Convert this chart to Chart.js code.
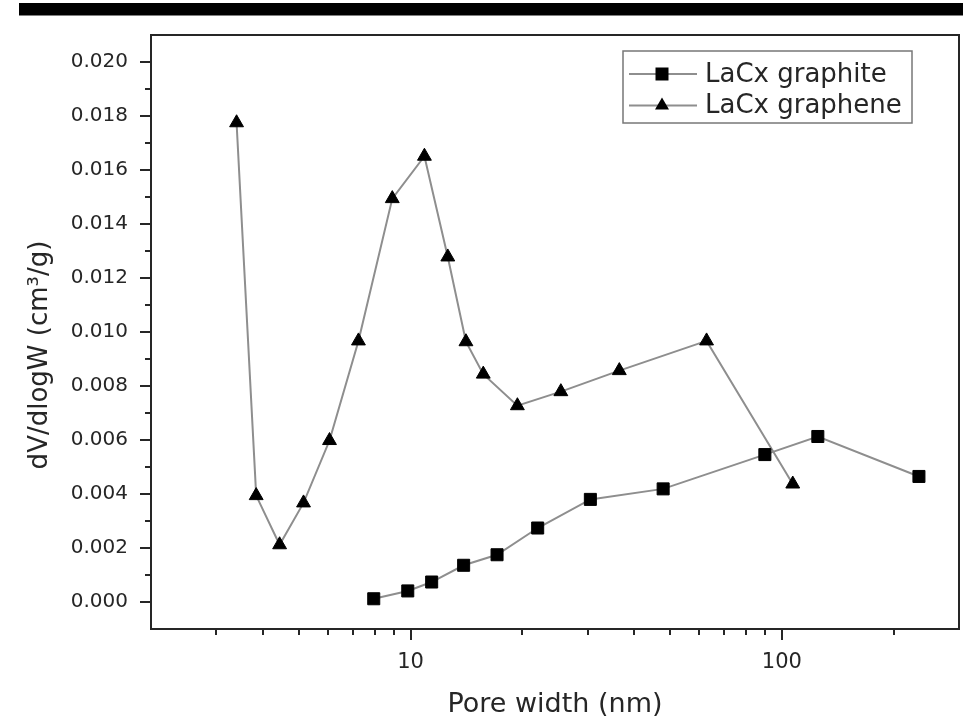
<!DOCTYPE html>
<html>
<head>
<meta charset="utf-8">
<script src="https://cdn.jsdelivr.net/npm/chart.js@4/dist/chart.umd.min.js"></script>
<style>
  html, body { margin: 0; padding: 0; background: #fff; }
  #wrap { position: relative; width: 963px; height: 725px; }
</style>
</head>
<body>
<div id="wrap"><canvas id="psd" width="963" height="725"></canvas></div>
<script>
// pore size distribution
const graphiteWidth = [7.96, 9.83, 11.4, 13.9, 17.1, 22.0, 30.5, 47.9, 90.0, 125, 234];
const graphiteDv    = [0.00012, 0.00041, 0.00074, 0.00136, 0.00175, 0.00274, 0.00380, 0.00419, 0.00546, 0.00613, 0.00465];

const grapheneWidth = [3.40, 3.84, 4.44, 5.15, 6.05, 7.24, 8.93, 10.9, 12.6, 14.1, 15.7, 19.4, 25.4, 36.5, 62.7, 107];
const grapheneDv    = [0.01775, 0.00394, 0.00212, 0.00367, 0.00598, 0.00967, 0.01494, 0.01651, 0.01278, 0.00964, 0.00844, 0.00727, 0.00779, 0.00857, 0.00967, 0.00437];

const seriesNames = ['LaCx graphite', 'LaCx graphene'];

// axis ticks
const xTickValues  = [10, 100];
const xMinorValues = [3, 4, 5, 6, 7, 8, 9, 20, 30, 40, 50, 60, 70, 80, 90, 200];
const yTickValues  = [0, 0.002, 0.004, 0.006, 0.008, 0.010, 0.012, 0.014, 0.016, 0.018, 0.020];
const yMinorValues = [0.001, 0.003, 0.005, 0.007, 0.009, 0.011, 0.013, 0.015, 0.017, 0.019];

const FONT = "'DejaVu Sans', sans-serif";
const INK = '#262626';
const LINE = '#8e8e8e';

function pairs(xs, ys) {
    return xs.map((x, i) => ({ x: x, y: ys[i] }));
}

function drawMarker(ctx, style, x, y) {
    ctx.fillStyle = '#000';
    ctx.beginPath();
    if (style === 'rect') {
        ctx.rect(x - 6.5, y - 6.5, 13, 13);
    } else {
        ctx.moveTo(x, y - 8);
        ctx.lineTo(x + 7, y + 4);
        ctx.lineTo(x - 7, y + 4);
        ctx.closePath();
    }
    ctx.fill();
}

// black strip across the top, frame, outward ticks, y title and the legend box
const decor = {
    id: 'decor',
    beforeDraw(chart) {
        const ctx = chart.ctx;
        ctx.save();
        ctx.fillStyle = '#000';
        ctx.fillRect(19, 3, 944, 12.5);
        ctx.restore();
    },
    afterDraw(chart) {
        const { ctx, chartArea: a, scales: { x, y } } = chart;
        ctx.save();
        ctx.strokeStyle = INK;
        ctx.lineWidth = 2;
        ctx.strokeRect(a.left, a.top, a.right - a.left, a.bottom - a.top);

        ctx.beginPath();
        xTickValues.forEach(v => {
            const px = Math.round(x.getPixelForValue(v));
            ctx.moveTo(px, a.bottom); ctx.lineTo(px, a.bottom + 11);
        });
        xMinorValues.forEach(v => {
            const px = Math.round(x.getPixelForValue(v));
            ctx.moveTo(px, a.bottom); ctx.lineTo(px, a.bottom + 6);
        });
        yTickValues.forEach(v => {
            const py = Math.round(y.getPixelForValue(v));
            ctx.moveTo(a.left, py); ctx.lineTo(a.left - 11, py);
        });
        yMinorValues.forEach(v => {
            const py = Math.round(y.getPixelForValue(v));
            ctx.moveTo(a.left, py); ctx.lineTo(a.left - 6, py);
        });
        ctx.stroke();

        // y axis title
        ctx.save();
        ctx.translate(40, 355);
        ctx.rotate(-Math.PI / 2);
        ctx.fillStyle = INK;
        ctx.font = '26px ' + FONT;
        ctx.textAlign = 'center';
        ctx.textBaseline = 'middle';
        ctx.fillText('dV/dlogW (cm³/g)', 0, 0);
        ctx.restore();

        // legend
        const bx = a.right - 336, by = a.top + 16;
        ctx.lineWidth = 1.5;
        ctx.strokeStyle = '#777';
        ctx.strokeRect(bx, by, 289, 72);
        const rows = [by + 23, by + 54.5];
        const styles = ['rect', 'triangle'];
        ctx.font = '26px ' + FONT;
        ctx.textAlign = 'left';
        ctx.textBaseline = 'middle';
        chart.data.datasets.forEach((ds, i) => {
            const ry = rows[i];
            ctx.strokeStyle = LINE;
            ctx.lineWidth = 2;
            ctx.beginPath();
            ctx.moveTo(bx + 6, ry); ctx.lineTo(bx + 74, ry);
            ctx.stroke();
            drawMarker(ctx, styles[i], bx + 39, ry);
            ctx.fillStyle = INK;
            ctx.fillText(ds.label, bx + 82, ry + 1);
        });
        ctx.restore();
    }
};

new Chart(document.getElementById('psd'), {
    type: 'line',
    data: {
        datasets: [
            {
                label: seriesNames[0],
                data: pairs(graphiteWidth, graphiteDv),
                borderColor: LINE,
                borderWidth: 2,
                pointStyle: 'rect',
                pointRadius: 8.5,
                pointBackgroundColor: '#000',
                pointBorderColor: '#000',
                pointBorderWidth: 1,
                tension: 0
            },
            {
                label: seriesNames[1],
                data: pairs(grapheneWidth, grapheneDv),
                borderColor: LINE,
                borderWidth: 2,
                pointStyle: 'triangle',
                pointRadius: 8,
                pointBackgroundColor: '#000',
                pointBorderColor: '#000',
                pointBorderWidth: 1,
                tension: 0
            }
        ]
    },
    options: {
        responsive: false,
        animation: false,
        devicePixelRatio: 1,
        layout: { autoPadding: false, padding: { top: 33, right: 4, left: 0, bottom: 0 } },
        plugins: {
            legend: { display: false },
            tooltip: { enabled: false }
        },
        scales: {
            x: {
                type: 'logarithmic',
                min: 2,
                max: 300,
                grid: { display: false, drawTicks: false },
                border: { display: false },
                afterBuildTicks: s => { s.ticks = xTickValues.map(v => ({ value: v })); },
                afterFit: s => { s.height = 96; },
                ticks: {
                    padding: 21,
                    autoSkip: false,
                    maxRotation: 0,
                    color: INK,
                    font: { family: FONT, size: 21 },
                    callback: v => String(v)
                },
                title: {
                    display: true,
                    text: 'Pore width (nm)',
                    color: INK,
                    font: { family: FONT, size: 27 },
                    padding: { top: 0, bottom: 4 }
                }
            },
            y: {
                min: -0.001,
                max: 0.021,
                grid: { display: false, drawTicks: false },
                border: { display: false },
                afterBuildTicks: s => { s.ticks = yTickValues.map(v => ({ value: v })); },
                afterFit: s => { s.width = 151; },
                ticks: {
                    padding: 23,
                    color: INK,
                    font: { family: FONT, size: 20 },
                    callback: v => v.toFixed(3)
                }
            }
        }
    },
    plugins: [decor]
});
</script>
</body>
</html>
